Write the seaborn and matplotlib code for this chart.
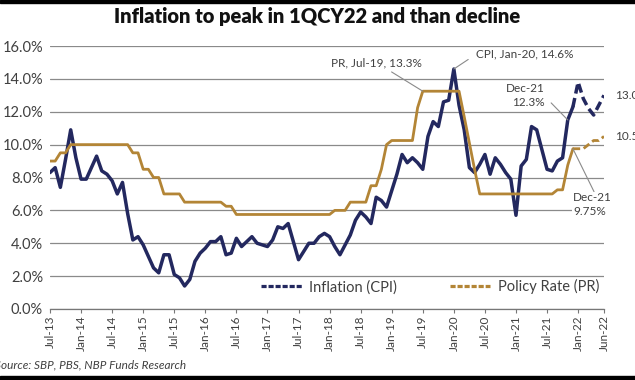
import pandas as pd
import seaborn as sns
import matplotlib.pyplot as plt
from matplotlib.lines import Line2D
from matplotlib.patches import Rectangle
from matplotlib.transforms import ScaledTranslation

# monthly, Jul-13 .. Jun-22 (Dec-21 onwards is forecast, drawn dashed)
months = pd.date_range("2013-07-01", "2022-06-01", freq="MS")

cpi = [8.3, 8.6, 7.4, 9.1, 10.9, 9.2,
       7.9, 7.9, 8.6, 9.3, 8.4, 8.2, 7.8, 7.0, 7.7, 5.8, 4.2, 4.4,
       3.9, 3.2, 2.5, 2.2, 3.3, 3.3, 2.1, 1.9, 1.4, 1.8, 2.9, 3.4,
       3.7, 4.1, 4.1, 4.4, 3.3, 3.4, 4.3, 3.8, 4.1, 4.4, 4.0, 3.9,
       3.8, 4.2, 5.0, 4.9, 5.2, 4.1, 3.0, 3.5, 4.0, 4.0, 4.4, 4.6,
       4.4, 3.8, 3.3, 3.9, 4.5, 5.4, 5.9, 5.6, 5.2, 6.8, 6.6, 6.2,
       7.2, 8.2, 9.4, 8.9, 9.2, 8.9, 8.5, 10.5, 11.4, 11.1, 12.6, 12.7,
       14.6, 12.4, 10.9, 8.6, 8.3, 8.8, 9.4, 8.2, 9.2, 8.8, 8.3, 7.9,
       5.7, 8.7, 9.1, 11.1, 10.9, 9.7, 8.5, 8.4, 9.0, 9.2, 11.5, 12.3,
       13.8, 12.8, 12.2, 11.8, 12.4, 13.0]

policy_rate = [9.0, 9.0, 9.5, 9.5, 10.0, 10.0,
               10.0, 10.0, 10.0, 10.0, 10.0, 10.0, 10.0, 10.0, 10.0, 10.0, 9.5, 9.5,
               8.5, 8.5, 8.0, 8.0, 7.0, 7.0, 7.0, 7.0, 6.5, 6.5, 6.5, 6.5,
               6.5, 6.5, 6.5, 6.5, 6.25, 6.25, 5.75, 5.75, 5.75, 5.75, 5.75, 5.75,
               5.75, 5.75, 5.75, 5.75, 5.75, 5.75, 5.75, 5.75, 5.75, 5.75, 5.75, 5.75,
               5.75, 6.0, 6.0, 6.0, 6.5, 6.5, 6.5, 6.5, 7.5, 7.5, 8.5, 10.0,
               10.25, 10.25, 10.25, 10.25, 10.25, 12.25, 13.25, 13.25, 13.25, 13.25, 13.25, 13.25,
               13.25, 13.25, 11.7, 10.1, 8.5, 7.0, 7.0, 7.0, 7.0, 7.0, 7.0, 7.0,
               7.0, 7.0, 7.0, 7.0, 7.0, 7.0, 7.0, 7.0, 7.25, 7.25, 8.75, 9.75,
               9.75, 9.75, 10.0, 10.25, 10.25, 10.5]

forecast_from = "Dec-21"

navy = "#23285f"
gold = "#b38536"
txt = "#404040"

labels = list(months.strftime("%b-%y"))
df = pd.DataFrame({"t": range(len(months)), "month": labels,
                   "cpi": cpi, "pr": policy_rate})
f0 = labels.index(forecast_from)
actual = df[df.t <= f0]
fcst = df[df.t >= f0]

sns.set_theme(style="white")
plt.rcParams["font.family"] = ["Lato", "DejaVu Sans"]

fig = plt.figure(figsize=(6.35, 3.8), dpi=100)
ax = fig.add_axes([50 / 635, 71 / 380, 554 / 635, 263 / 380])

dash = (0, (2.6, 1.3))
sns.lineplot(data=actual, x="t", y="cpi", color=navy, lw=2.5, ax=ax)
sns.lineplot(data=fcst, x="t", y="cpi", color=navy, lw=2.5, linestyle=dash, ax=ax)
sns.lineplot(data=actual, x="t", y="pr", color=gold, lw=2.0, ax=ax)
sns.lineplot(data=fcst, x="t", y="pr", color=gold, lw=2.0, linestyle=dash, ax=ax)

ax.set_xlim(0, len(months) - 1)
ax.set_ylim(0, 16)
ax.set_xlabel("")
ax.set_ylabel("")

yt = list(range(0, 17, 2))
ax.set_yticks(yt)
ax.set_yticklabels([f"{v:.1f}%" for v in yt], fontsize=10.5, color=txt)
ax.yaxis.grid(True, color="#8a8a8a", lw=0.9)
ax.set_axisbelow(True)
off = ScaledTranslation(0, 4 / 72, fig.dpi_scale_trans)
for lab in ax.get_yticklabels():
    lab.set_transform(lab.get_transform() + off)

xt = [i for i, m in enumerate(months) if m.month in (1, 7)] + [len(months) - 1]
ax.set_xticks(xt)
ax.set_xticklabels([labels[i] for i in xt], rotation=90, fontsize=8.5, color=txt)
ax.tick_params(axis="x", length=3, width=0.8, color="#777777", pad=1.5, bottom=True)
ax.tick_params(axis="y", length=0, pad=5)

for s in ["top", "right", "left"]:
    ax.spines[s].set_visible(False)
ax.spines["bottom"].set_color("#777777")
ax.spines["bottom"].set_linewidth(0.9)

# annotations
lead = dict(arrowstyle="-", color="#8a8a8a", lw=0.8, shrinkA=1, shrinkB=0)
i_pr = labels.index("Jul-19")
ax.annotate("PR, Jul-19, 13.3%", xy=(i_pr, policy_rate[i_pr]), xytext=(63, 15.0),
            ha="center", va="center", fontsize=8.5, color=txt, arrowprops=lead)
i_cpi = labels.index("Jan-20")
ax.annotate("CPI, Jan-20, 14.6%", xy=(i_cpi, cpi[i_cpi]), xytext=(82.3, 15.5),
            ha="left", va="center", fontsize=8.5, color=txt,
            arrowprops=dict(lead, relpos=(0, 0.5), shrinkA=4))
ax.annotate("Dec-21\n12.3%", xy=(100, cpi[100]), xytext=(95.6, 13.0),
            ha="right", va="center", multialignment="right", fontsize=8.5,
            color=txt, linespacing=1.3,
            arrowprops=dict(lead, relpos=(1, 0.45), shrinkA=3))
ax.annotate("Dec-21\n9.75%", xy=(f0, policy_rate[f0]), xytext=(101.0, 6.35),
            ha="left", va="center", fontsize=8.5, color=txt, linespacing=1.3,
            bbox=dict(boxstyle="square,pad=0.05", fc="white", ec="none"),
            arrowprops=dict(lead, relpos=(0.55, 1), shrinkA=0), annotation_clip=False)

# end-of-line value labels, cut by the right edge as in the source
ax.annotate(f"{cpi[-1]:.1f}%", xy=(len(months) - 1, cpi[-1]), xytext=(8, 0),
            textcoords="offset points", va="center", fontsize=8.5, color=txt,
            annotation_clip=False)
ax.annotate(f"{policy_rate[-1]:.1f}%", xy=(len(months) - 1, policy_rate[-1]), xytext=(8, 0),
            textcoords="offset points", va="center", fontsize=8.5, color=txt,
            annotation_clip=False)

handles = [Line2D([], [], color=navy, lw=2.3, linestyle=(0, (1.6, 0.6))),
           Line2D([], [], color=gold, lw=2.3, linestyle=(0, (1.6, 0.6)))]
ax.legend(handles, ["Inflation (CPI)", "Policy Rate (PR)"], loc="center",
          bbox_to_anchor=(0.686, 0.084), ncol=2, frameon=False, fontsize=10.5,
          handlelength=2.8, handletextpad=0.5, columnspacing=3.6, labelcolor=txt)

fig.text(0.5, 1 - 17 / 380, "Inflation to peak in 1QCY22 and than decline",
         ha="center", va="center", fontsize=14.5, fontweight="heavy",
         family=["Lato", "DejaVu Sans"], color="#111111")
fig.text(-0.008, 1 - 365 / 380, "Source: SBP, PBS, NBP Funds Research",
         ha="left", va="center", fontsize=8.5, style="italic", color=txt)

fig.patches.append(Rectangle((0, 1 - 3 / 380), 1, 3 / 380, transform=fig.transFigure,
                             color="black", zorder=10))
fig.patches.append(Rectangle((0, 0), 1, 4 / 380, transform=fig.transFigure,
                             color="black", zorder=10))

fig.savefig("out.png", dpi=100)
